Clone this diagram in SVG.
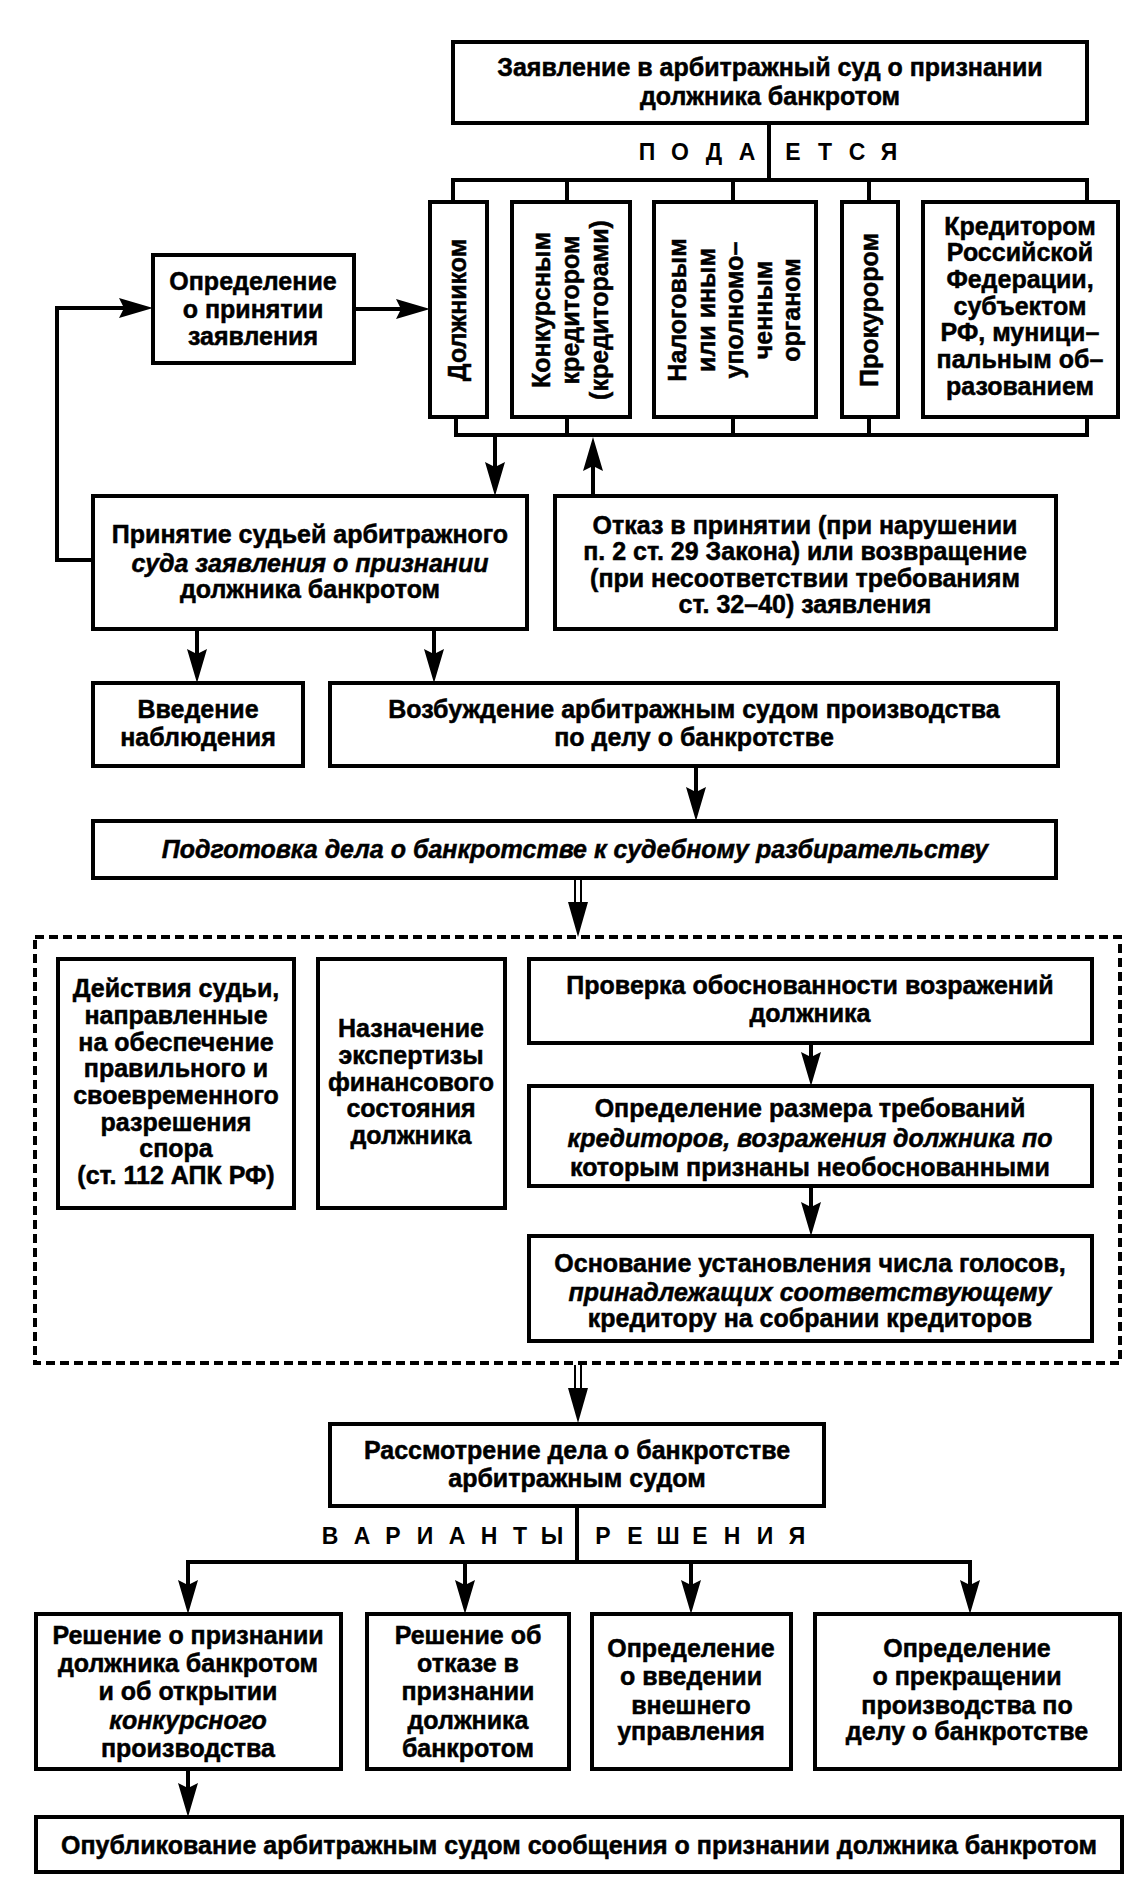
<svg xmlns="http://www.w3.org/2000/svg" width="1145" height="1892" viewBox="0 0 1145 1892">
<defs>
<style>
.box{fill:#fff;stroke:#000;stroke-width:4}
.dash{fill:none;stroke:#000;stroke-width:4;stroke-dasharray:9 5}
.ln{fill:none;stroke:#000;stroke-width:4}
.thin{fill:none;stroke:#000;stroke-width:2}
.t{font-family:"Liberation Sans",Arial,sans-serif;font-weight:bold;font-size:25px;text-anchor:middle;fill:#000;stroke:#000;stroke-width:0.5}
.i{font-style:italic}
.sp{font-family:"Liberation Sans",Arial,sans-serif;font-weight:bold;font-size:23px;text-anchor:middle;fill:#000}
</style>
<marker id="ah" markerUnits="userSpaceOnUse" markerWidth="36" markerHeight="22" refX="26" refY="10" orient="auto">
<path d="M0,0 L34,10 L0,20 L5,10 z" fill="#000"/>
</marker>
</defs>
<rect width="1145" height="1892" fill="#fff"/>

<g id="connectors">
<line class="ln" x1="769" y1="123" x2="769" y2="180"/>
<polyline class="ln" points="453,202 453,180 1087,180 1087,202"/>
<line class="ln" x1="567" y1="180" x2="567" y2="202"/>
<line class="ln" x1="733" y1="180" x2="733" y2="202"/>
<line class="ln" x1="869" y1="180" x2="869" y2="202"/>
<polyline class="ln" points="456,417 456,435 1087,435 1087,417"/>
<line class="ln" x1="567" y1="417" x2="567" y2="435"/>
<line class="ln" x1="733" y1="417" x2="733" y2="435"/>
<line class="ln" x1="869" y1="417" x2="869" y2="435"/>
<line class="ln" x1="495" y1="435" x2="495" y2="488" marker-end="url(#ah)"/>
<line class="ln" x1="593" y1="496" x2="593" y2="445" marker-end="url(#ah)"/>
<line class="ln" x1="354" y1="309" x2="422" y2="309" marker-end="url(#ah)"/>
<polyline class="ln" points="93,560 57,560 57,308 145,308" marker-end="url(#ah)"/>
<line class="ln" x1="197" y1="629" x2="197" y2="675" marker-end="url(#ah)"/>
<line class="ln" x1="434" y1="629" x2="434" y2="675" marker-end="url(#ah)"/>
<line class="ln" x1="696" y1="766" x2="696" y2="813" marker-end="url(#ah)"/>
<line class="thin" x1="575" y1="878" x2="575" y2="906"/>
<line class="thin" x1="581" y1="878" x2="581" y2="906"/>
<polygon points="568,902 588,902 578,937" fill="#000"/>
<line class="ln" x1="811" y1="1043" x2="811" y2="1078" marker-end="url(#ah)"/>
<line class="ln" x1="811" y1="1186" x2="811" y2="1228" marker-end="url(#ah)"/>
<line class="thin" x1="575" y1="1365" x2="575" y2="1392"/>
<line class="thin" x1="581" y1="1365" x2="581" y2="1392"/>
<polygon points="568,1388 588,1388 578,1423" fill="#000"/>
<line class="ln" x1="577" y1="1506" x2="577" y2="1562"/>
<polyline class="ln" points="188,1562 970,1562"/>
<line class="ln" x1="188" y1="1560" x2="188" y2="1606" marker-end="url(#ah)"/>
<line class="ln" x1="970" y1="1560" x2="970" y2="1606" marker-end="url(#ah)"/>
<line class="ln" x1="465" y1="1562" x2="465" y2="1606" marker-end="url(#ah)"/>
<line class="ln" x1="691" y1="1562" x2="691" y2="1606" marker-end="url(#ah)"/>
<line class="ln" x1="188" y1="1769" x2="188" y2="1809" marker-end="url(#ah)"/>
<text class="sp" x="647 680 714 747" y="160">ПОДА</text>
<text class="sp" x="793 825 857 889" y="160">ЕТСЯ</text>
<text class="sp" x="330 362 393 425 457 489 520 552" y="1544">ВАРИАНТЫ</text>
<text class="sp" x="603 635 668 700 732 765 797" y="1544">РЕШЕНИЯ</text>
</g>

<g id="n-zayavlenie">
<rect class="box" x="453" y="42" width="634" height="81"/>
<text class="t"><tspan x="770" y="76">Заявление в арбитражный суд о признании</tspan><tspan x="770" y="105">должника банкротом</tspan></text>
</g>

<g id="n-dolzhnikom">
<rect class="box" x="430" y="202" width="57" height="215"/>
<text class="t" transform="translate(458,310) rotate(-90)" y="8">Должником</text>
</g>

<g id="n-konkursnym">
<rect class="box" x="512" y="202" width="118" height="215"/>
<text class="t" transform="translate(571,310) rotate(-90)"><tspan x="0" y="-21">Конкурсным</tspan><tspan x="0" y="8">кредитором</tspan><tspan x="0" y="37">(кредиторами)</tspan></text>
</g>

<g id="n-nalogovym">
<rect class="box" x="654" y="202" width="162" height="215"/>
<text class="t" transform="translate(735,310) rotate(-90)"><tspan x="0" y="-49">Налоговым</tspan><tspan x="0" y="-20.5">или иным</tspan><tspan x="0" y="8">уполномо–</tspan><tspan x="0" y="36.5">ченным</tspan><tspan x="0" y="65">органом</tspan></text>
</g>

<g id="n-prokurorom">
<rect class="box" x="842" y="202" width="56" height="215"/>
<text class="t" transform="translate(870,310) rotate(-90)" y="8">Прокурором</text>
</g>

<g id="n-kreditorom">
<rect class="box" x="923" y="202" width="195" height="215"/>
<text class="t"><tspan x="1020" y="235">Кредитором</tspan><tspan x="1020" y="261">Российской</tspan><tspan x="1020" y="288">Федерации,</tspan><tspan x="1020" y="315">субъектом</tspan><tspan x="1020" y="341">РФ, муници–</tspan><tspan x="1020" y="368">пальным об–</tspan><tspan x="1020" y="395">разованием</tspan></text>
</g>

<g id="n-opredelenie">
<rect class="box" x="153" y="255" width="201" height="108"/>
<text class="t"><tspan x="253" y="290">Определение</tspan><tspan x="253" y="318">о принятии</tspan><tspan x="253" y="345">заявления</tspan></text>
</g>

<g id="n-prinyatie">
<rect class="box" x="93" y="496" width="434" height="133"/>
<text class="t"><tspan x="310" y="543">Принятие судьей арбитражного</tspan><tspan x="310" y="572" class="i">суда заявления о признании</tspan><tspan x="310" y="598">должника банкротом</tspan></text>
</g>

<g id="n-otkaz">
<rect class="box" x="555" y="496" width="501" height="133"/>
<text class="t"><tspan x="805" y="534">Отказ в принятии (при нарушении</tspan><tspan x="805" y="560">п. 2 ст. 29 Закона) или возвращение</tspan><tspan x="805" y="587">(при несоответствии требованиям</tspan><tspan x="805" y="613">ст. 32–40) заявления</tspan></text>
</g>

<g id="n-vvedenie">
<rect class="box" x="93" y="683" width="210" height="83"/>
<text class="t"><tspan x="198" y="718">Введение</tspan><tspan x="198" y="746">наблюдения</tspan></text>
</g>

<g id="n-vozbuzhdenie">
<rect class="box" x="330" y="683" width="728" height="83"/>
<text class="t"><tspan x="694" y="718">Возбуждение арбитражным судом производства</tspan><tspan x="694" y="746">по делу о банкротстве</tspan></text>
</g>

<g id="n-podgotovka">
<rect class="box" x="93" y="821" width="963" height="57"/>
<text class="t i" x="575" y="858">Подготовка дела о банкротстве к судебному разбирательству</text>
</g>

<g id="n-group">
<rect class="dash" x="35" y="937" width="1085" height="426"/>
</g>

<g id="n-deistviya">
<rect class="box" x="58" y="959" width="236" height="249"/>
<text class="t"><tspan x="176" y="997">Действия судьи,</tspan><tspan x="176" y="1024">направленные</tspan><tspan x="176" y="1051">на обеспечение</tspan><tspan x="176" y="1077">правильного и</tspan><tspan x="176" y="1104">своевременного</tspan><tspan x="176" y="1131">разрешения</tspan><tspan x="176" y="1157">спора</tspan><tspan x="176" y="1184">(ст. 112 АПК РФ)</tspan></text>
</g>

<g id="n-naznachenie">
<rect class="box" x="318" y="959" width="187" height="249"/>
<text class="t"><tspan x="411" y="1037">Назначение</tspan><tspan x="411" y="1064">экспертизы</tspan><tspan x="411" y="1091">финансового</tspan><tspan x="411" y="1117">состояния</tspan><tspan x="411" y="1144">должника</tspan></text>
</g>

<g id="n-proverka">
<rect class="box" x="529" y="959" width="563" height="84"/>
<text class="t"><tspan x="810" y="994">Проверка обоснованности возражений</tspan><tspan x="810" y="1022">должника</tspan></text>
</g>

<g id="n-razmer">
<rect class="box" x="529" y="1086" width="563" height="100"/>
<text class="t"><tspan x="810" y="1117">Определение размера требований</tspan><tspan x="810" y="1147" class="i">кредиторов, возражения должника по</tspan><tspan x="810" y="1176">которым признаны необоснованными</tspan></text>
</g>

<g id="n-osnovanie">
<rect class="box" x="529" y="1236" width="563" height="105"/>
<text class="t"><tspan x="810" y="1272">Основание установления числа голосов,</tspan><tspan x="810" y="1301" class="i">принадлежащих соответствующему</tspan><tspan x="810" y="1327">кредитору на собрании кредиторов</tspan></text>
</g>

<g id="n-rassmotrenie">
<rect class="box" x="330" y="1424" width="494" height="82"/>
<text class="t"><tspan x="577" y="1459">Рассмотрение дела о банкротстве</tspan><tspan x="577" y="1487">арбитражным судом</tspan></text>
</g>

<g id="n-reshenie1">
<rect class="box" x="36" y="1614" width="305" height="155"/>
<text class="t"><tspan x="188" y="1644">Решение о признании</tspan><tspan x="188" y="1672">должника банкротом</tspan><tspan x="188" y="1700">и об открытии</tspan><tspan x="188" y="1729" class="i">конкурсного</tspan><tspan x="188" y="1757">производства</tspan></text>
</g>

<g id="n-reshenie2">
<rect class="box" x="367" y="1614" width="202" height="155"/>
<text class="t"><tspan x="468" y="1644">Решение об</tspan><tspan x="468" y="1672">отказе в</tspan><tspan x="468" y="1700">признании</tspan><tspan x="468" y="1729">должника</tspan><tspan x="468" y="1757">банкротом</tspan></text>
</g>

<g id="n-vneshnee">
<rect class="box" x="592" y="1614" width="199" height="155"/>
<text class="t"><tspan x="691" y="1657">Определение</tspan><tspan x="691" y="1685">о введении</tspan><tspan x="691" y="1714">внешнего</tspan><tspan x="691" y="1740">управления</tspan></text>
</g>

<g id="n-prekrashchenie">
<rect class="box" x="815" y="1614" width="305" height="155"/>
<text class="t"><tspan x="967" y="1657">Определение</tspan><tspan x="967" y="1685">о прекращении</tspan><tspan x="967" y="1714">производства по</tspan><tspan x="967" y="1740">делу о банкротстве</tspan></text>
</g>

<g id="n-publikaciya">
<rect class="box" x="36" y="1817" width="1086" height="55"/>
<text class="t" x="579" y="1854">Опубликование арбитражным судом сообщения о признании должника банкротом</text>
</g>
</svg>
